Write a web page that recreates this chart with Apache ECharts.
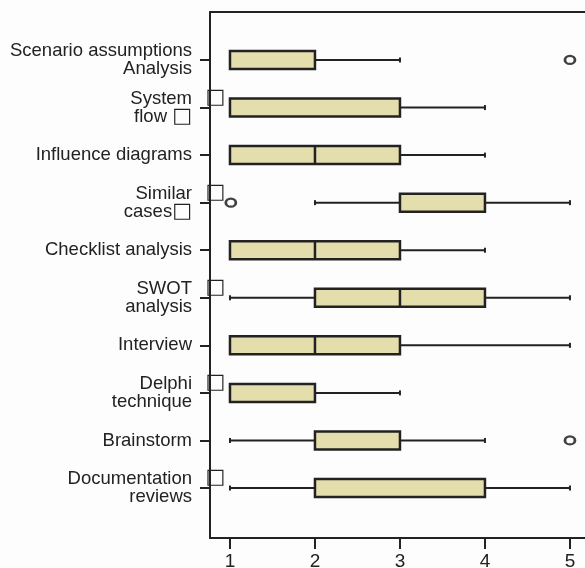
<!DOCTYPE html>
<html>
<head>
<meta charset="utf-8">
<script src="https://cdn.jsdelivr.net/npm/echarts@6/dist/echarts.min.js"></script>
<style>
html,body{margin:0;padding:0;background:#fdfdfd;}
#c{width:585px;height:568px;}
</style>
</head>
<body>
<div id="c"></div>
<script>
const categories = ['Scenario assumptions\nAnalysis', 'System\nflow {g|\u25A1}', 'Influence diagrams', 'Similar\ncases{g|\u25A1}', 'Checklist analysis', 'SWOT\nanalysis', 'Interview', 'Delphi\ntechnique', 'Brainstorm', 'Documentation\nreviews'];
const lowWhisker  = [1, 1, 1, 2, 1, 1, 1, 1, 1, 1];
const q1          = [1, 1, 1, 3, 1, 2, 1, 1, 2, 2];
const median      = [1, 1, 2, 3, 2, 3, 2, 1, 2, 2];
const q3          = [2, 3, 3, 4, 3, 4, 3, 2, 3, 4];
const highWhisker = [3, 4, 4, 5, 4, 5, 5, 3, 4, 5];
const outliers = [[5, 0], [1.01, 3], [5, 8]];
const strayGlyphCats = [1, 3, 5, 7, 9];
const tickValues = [1, 2, 3, 4, 5];

const xMin = 0.765, xMax = 5.177;
const ink = '#222';
const boxFill = '#e4ddac';

const boxData = categories.map((c, i) => [i, lowWhisker[i], q1[i], median[i], q3[i], highWhisker[i]]);

function renderBox(params, api) {
  const idx = api.value(0);
  const lo = api.value(1), a = api.value(2), m = api.value(3), b = api.value(4), hi = api.value(5);
  const y = api.coord([a, idx])[1];
  const xLo = api.coord([lo, idx])[0];
  const xA = api.coord([a, idx])[0];
  const xM = api.coord([m, idx])[0];
  const xB = api.coord([b, idx])[0];
  const xHi = api.coord([hi, idx])[0];
  const hh = 9, cap = 2.5;
  const children = [];
  const ls = {stroke: ink, lineWidth: 2};
  if (lo < a) {
    children.push({type: 'line', shape: {x1: xLo, y1: y, x2: xA, y2: y}, style: ls});
    children.push({type: 'line', shape: {x1: xLo, y1: y - cap, x2: xLo, y2: y + cap}, style: ls});
  }
  if (hi > b) {
    children.push({type: 'line', shape: {x1: xB, y1: y, x2: xHi, y2: y}, style: ls});
    children.push({type: 'line', shape: {x1: xHi, y1: y - cap, x2: xHi, y2: y + cap}, style: ls});
  }
  children.push({type: 'rect', shape: {x: xA, y: y - hh, width: xB - xA, height: 2 * hh}, style: {fill: boxFill, stroke: ink, lineWidth: 2.5}});
  if (m > a && m < b) {
    children.push({type: 'line', shape: {x1: xM, y1: y - hh, x2: xM, y2: y + hh}, style: {stroke: ink, lineWidth: 2.5}});
  }
  return {type: 'group', children: children};
}

function renderGlyph(params, api) {
  const idx = api.value(0);
  const p = api.coord([0.83, idx]);
  return {type: 'text', x: p[0], y: p[1] - 10, style: {text: '\u25A1', fill: ink, fontSize: 21, align: 'center', verticalAlign: 'middle', fontFamily: 'DejaVu Sans'}};
}

const chart = echarts.init(document.getElementById('c'));
chart.setOption({
  backgroundColor: '#fdfdfd',
  animation: false,
  grid: [
    {left: 210, right: 0, top: 12, bottom: 30, containLabel: false, outerBoundsMode: 'none'},
    {left: 210, right: 0, top: 36.2, bottom: 56.2, containLabel: false, outerBoundsMode: 'none'}
  ],
  xAxis: [
    {type: 'value', gridIndex: 0, min: xMin, max: xMax, position: 'bottom',
     axisLine: {show: true, lineStyle: {color: ink, width: 2}},
     axisTick: {show: true, length: 11, lineStyle: {color: ink, width: 2}, customValues: tickValues},
     axisLabel: {show: true, color: ink, fontSize: 19, margin: 14, fontFamily: 'Liberation Sans, Arial', customValues: tickValues},
     splitLine: {show: false}},
    {type: 'value', gridIndex: 0, min: xMin, max: xMax, position: 'top',
     axisLine: {show: true, lineStyle: {color: ink, width: 2}},
     axisTick: {show: false}, axisLabel: {show: false}, splitLine: {show: false}},
    {type: 'value', gridIndex: 1, min: xMin, max: xMax, show: false, splitLine: {show: false}}
  ],
  yAxis: [
    {type: 'value', gridIndex: 0, min: 0, max: 1,
     axisLine: {show: true, lineStyle: {color: ink, width: 2}},
     axisTick: {show: false}, axisLabel: {show: false}, splitLine: {show: false}},
    {type: 'category', gridIndex: 1, data: categories, inverse: true,
     axisLine: {show: false},
     axisTick: {show: true, alignWithLabel: true, length: 10, lineStyle: {color: ink, width: 2}},
     axisLabel: {color: ink, fontSize: 18.5, lineHeight: 18, margin: 18, align: 'right', fontFamily: 'Liberation Sans, Arial',
       rich: {g: {fontFamily: 'DejaVu Sans', fontSize: 21, lineHeight: 18, color: ink}}},
     splitLine: {show: false}}
  ],
  series: [
    {type: 'custom', xAxisIndex: 2, yAxisIndex: 1, data: boxData, renderItem: renderBox,
     encode: {x: [1, 2, 3, 4, 5], y: 0}, clip: false},
    {type: 'scatter', xAxisIndex: 2, yAxisIndex: 1, data: outliers, symbol: 'circle', symbolSize: [10, 8],
     itemStyle: {color: '#fdfdfd', borderColor: '#111', borderWidth: 2.5}},
    {type: 'custom', xAxisIndex: 2, yAxisIndex: 1, data: strayGlyphCats.map(i => [i]), renderItem: renderGlyph,
     encode: {y: 0}, clip: false}
  ]
});
</script>
</body>
</html>
